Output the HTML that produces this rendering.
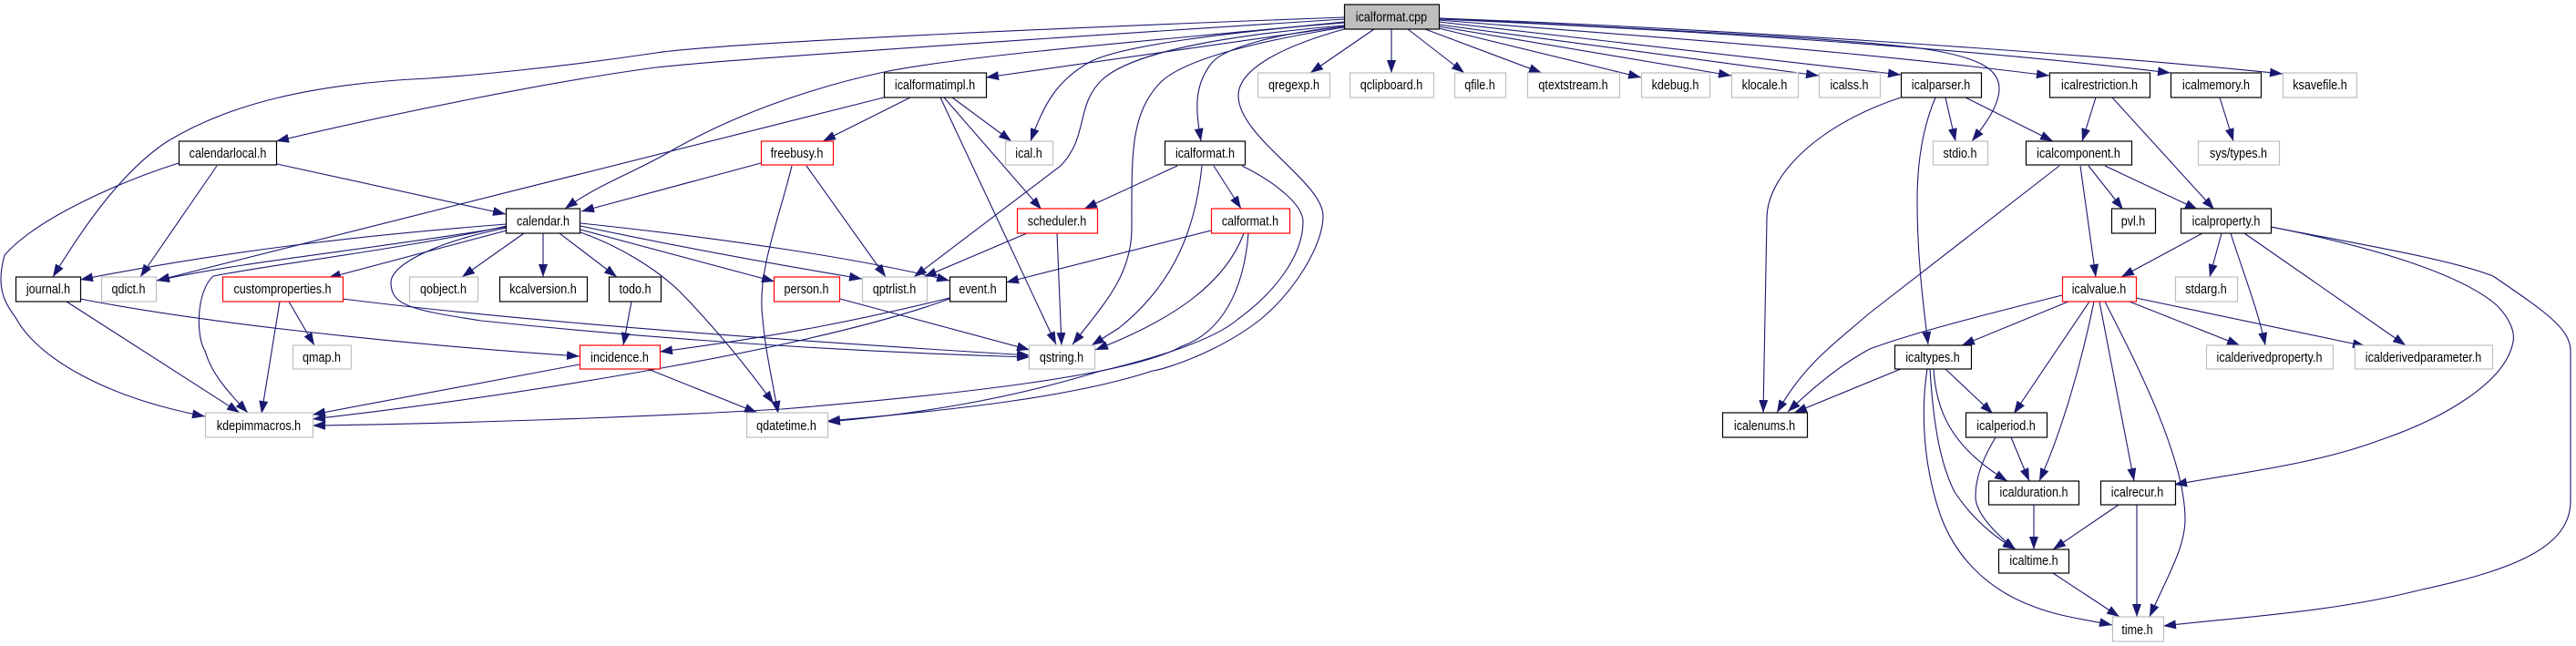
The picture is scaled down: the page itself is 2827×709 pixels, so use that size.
<!DOCTYPE html>
<html><head><meta charset="utf-8"><style>
html,body{margin:0;padding:0;background:#fff;width:2827px;height:709px;overflow:hidden}
svg{display:block}
.e path{fill:none;stroke:#191970;stroke-width:1.1;marker-end:url(#a)}
.k rect{fill:#fff;stroke:#000;stroke-width:1.2}
.r rect{fill:#fff;stroke:#f00;stroke-width:1.2}
.g rect{fill:#fff;stroke:#bfbfbf;stroke-width:1.2}
text{font-family:"Liberation Sans",sans-serif;font-size:15px;text-anchor:middle;fill:#000}
</style></head><body>
<svg width="2827" height="709" viewBox="0 0 2827 709" xmlns="http://www.w3.org/2000/svg">
<defs><marker id="a" markerUnits="userSpaceOnUse" markerWidth="14" markerHeight="10" refX="14" refY="5" orient="auto"><path d="M0,0L14,5L0,10z" fill="#191970"/></marker></defs>
<g class="e">
<path d="M1475,19C1230,28 800,46 720,58C600,76 500,84 470,86C340,92 250,115 184,155C130,190 85,260 58,304"/>
<path d="M1475,21C1100,45 800,65 720,74C600,90 430,125 303,155"/>
<path d="M1475,24C1300,42 1080,58 975,78C880,98 800,130 741,163C700,188 660,200 620,229"/>
<path d="M1475,29L1082,85"/>
<path d="M1475,25C1350,35 1230,50 1196,68C1160,88 1145,115 1131,155"/>
<path d="M1475,28C1330,40 1240,60 1210,87C1180,115 1195,150 1164,182L1003,304"/>
<path d="M1475,30C1380,45 1300,65 1274,90C1240,125 1242,170 1242,250C1242,300 1215,330 1177,378"/>
<path d="M1475,29C1390,38 1340,55 1329,70C1310,95 1312,120 1318,155"/>
<path d="M1475,32C1410,50 1359,75 1359,105C1359,150 1452,200 1452,237C1452,270 1420,320 1384,350C1340,385 1280,405 1265,407C1180,435 1050,450 908,462"/>
<path d="M1508,32L1438,80"/>
<path d="M1527,32L1527,80"/>
<path d="M1545,32L1607,80"/>
<path d="M1564,32L1692,80"/>
<path d="M1579,31L1801,85"/>
<path d="M1579,29L1900,83"/>
<path d="M1579,27L1996,83"/>
<path d="M1579,24L2086,82"/>
<path d="M1579,22C1800,40 2000,52 2249,83"/>
<path d="M1579,20C1800,32 2000,40 2107,53C2170,62 2194,75 2194,97C2194,115 2180,135 2164,155"/>
<path d="M1579,21C1850,33 2150,52 2382,80"/>
<path d="M1579,20C1850,30 2250,55 2505,81"/>
<path d="M304,180L555,235"/>
<path d="M238,182L154,304"/>
<path d="M196,179C130,200 40,240 5,280C-6,320 8,335 18,350C40,390 110,435 225,457"/>
<path d="M970,107L172,308"/>
<path d="M999,107L903,155"/>
<path d="M1045,107L1110,155"/>
<path d="M1036,107L1143,230"/>
<path d="M1032,107L1159,378"/>
<path d="M835,179L638,232"/>
<path d="M885,182L972,304"/>
<path d="M869,182C855,240 830,300 837,350C840,385 848,420 854,454"/>
<path d="M1292,182L1190,229"/>
<path d="M1332,182L1362,229"/>
<path d="M1319,182C1312,250 1290,310 1228,360L1198,379"/>
<path d="M1363,182C1400,200 1430,225 1430,243C1430,280 1400,320 1359,350C1330,375 1260,395 1205,408C1100,440 1000,455 908,463"/>
<path d="M1127,256L1014,304"/>
<path d="M1160,256L1165,379"/>
<path d="M1329,253L1104,310"/>
<path d="M1365,256C1345,310 1290,350 1202,384"/>
<path d="M1370,256C1365,320 1340,365 1297,380C1240,412 1050,433 858,449C700,458 500,465 343,467"/>
<path d="M556,246C400,258 250,275 88,307"/>
<path d="M556,249C400,275 280,285 172,308"/>
<path d="M556,253L360,305"/>
<path d="M556,248C450,272 300,290 234,303C215,320 215,370 225,385C232,410 250,430 272,453"/>
<path d="M556,250C480,265 429,290 429,310C429,335 450,340 528,352C700,370 900,385 1130,392"/>
<path d="M575,256L507,304"/>
<path d="M596,256L596,304"/>
<path d="M614,256L677,304"/>
<path d="M637,252L850,309"/>
<path d="M637,248C750,272 850,290 946,306"/>
<path d="M637,245C800,262 950,285 1042,308"/>
<path d="M637,255C680,270 720,295 746,320C790,365 825,410 849,443"/>
<path d="M73,331L263,453"/>
<path d="M88,328C200,350 400,375 636,391"/>
<path d="M307,331L287,454"/>
<path d="M317,331L345,379"/>
<path d="M376,328C550,350 800,370 1130,390"/>
<path d="M693,331L684,379"/>
<path d="M636,400L343,455"/>
<path d="M711,405L831,453"/>
<path d="M1042,327C950,350 850,370 724,386"/>
<path d="M1042,328C900,380 600,430 343,460"/>
<path d="M922,328L1130,384"/>
<path d="M2086,107C2000,135 1939,190 1939,240L1935,453"/>
<path d="M2124,107C2110,140 2104,180 2104,220C2104,280 2110,330 2116,378"/>
<path d="M2135,107L2146,155"/>
<path d="M2157,107L2253,155"/>
<path d="M2300,107L2285,155"/>
<path d="M2318,107L2430,230"/>
<path d="M2436,107L2451,155"/>
<path d="M2260,182L2050,345C2010,380 1980,400 1950,453"/>
<path d="M2283,182L2300,304"/>
<path d="M2292,182L2330,230"/>
<path d="M2310,182L2412,230"/>
<path d="M2417,256L2328,304"/>
<path d="M2438,256L2425,304"/>
<path d="M2448,256C2462,300 2478,340 2486,379"/>
<path d="M2463,256L2640,379"/>
<path d="M2492,249C2600,270 2700,300 2740,335C2755,350 2760,365 2758,375C2750,420 2680,460 2612,483C2540,510 2450,520 2386,532"/>
<path d="M2492,249C2600,270 2690,285 2736,303C2790,340 2821,360 2821,385L2821,550C2821,600 2760,625 2658,647C2560,672 2460,677 2374,687"/>
<path d="M2263,324C2180,345 2100,365 2052,383C2020,400 1990,425 1962,452"/>
<path d="M2270,331L2153,379"/>
<path d="M2293,331L2210,454"/>
<path d="M2298,331C2284,400 2262,475 2238,528"/>
<path d="M2304,331L2342,528"/>
<path d="M2310,331C2340,390 2398,500 2398,570C2398,600 2380,630 2359,677"/>
<path d="M2337,331L2458,379"/>
<path d="M2344,327L2596,380"/>
<path d="M2086,405L1969,453"/>
<path d="M2135,405L2187,454"/>
<path d="M2122,405C2125,450 2140,490 2203,528"/>
<path d="M2118,405C2122,470 2130,510 2145,540C2165,570 2190,590 2212,603"/>
<path d="M2115,405C2108,450 2110,510 2130,567C2150,620 2190,650 2230,665C2260,677 2290,680 2318,686"/>
<path d="M2207,480L2227,528"/>
<path d="M2190,480C2175,505 2168,525 2168,545C2168,565 2195,590 2212,603"/>
<path d="M2232,554L2232,603"/>
<path d="M2325,554L2253,603"/>
<path d="M2345,554L2345,677"/>
<path d="M2253,629L2326,677"/>
</g>
<g class="k">
<rect x="1475.5" y="5" width="104" height="27" style="fill:#bfbfbf"/><text transform="matrix(.84 0 0 1 1527 23.5)">icalformat.cpp</text>
<rect x="970.5" y="80" width="112" height="27"/><text transform="matrix(.84 0 0 1 1026 98)">icalformatimpl.h</text>
<rect x="2086.5" y="80" width="88" height="27"/><text transform="matrix(.84 0 0 1 2130 98)">icalparser.h</text>
<rect x="2249.5" y="80" width="110" height="27"/><text transform="matrix(.84 0 0 1 2304 98)">icalrestriction.h</text>
<rect x="2382.5" y="80" width="99" height="27"/><text transform="matrix(.84 0 0 1 2432 98)">icalmemory.h</text>
<rect x="196.5" y="155" width="107" height="26"/><text transform="matrix(.84 0 0 1 250 173)">calendarlocal.h</text>
<rect x="1278.5" y="155" width="88" height="26"/><text transform="matrix(.84 0 0 1 1322.5 173)">icalformat.h</text>
<rect x="2223.5" y="155" width="116" height="26"/><text transform="matrix(.84 0 0 1 2281 173)">icalcomponent.h</text>
<rect x="555.5" y="229" width="81" height="27"/><text transform="matrix(.84 0 0 1 596 247.5)">calendar.h</text>
<rect x="2317.5" y="229" width="48" height="27"/><text transform="matrix(.84 0 0 1 2341 247.5)">pvl.h</text>
<rect x="2393.5" y="229" width="99" height="27"/><text transform="matrix(.84 0 0 1 2443 247.5)">icalproperty.h</text>
<rect x="17.5" y="304" width="71" height="27"/><text transform="matrix(.84 0 0 1 53 322)">journal.h</text>
<rect x="548.5" y="304" width="96" height="27"/><text transform="matrix(.84 0 0 1 596 322)">kcalversion.h</text>
<rect x="668.5" y="304" width="57" height="27"/><text transform="matrix(.84 0 0 1 697 322)">todo.h</text>
<rect x="1042.5" y="304" width="62" height="27"/><text transform="matrix(.84 0 0 1 1073 322)">event.h</text>
<rect x="2079.5" y="379" width="84" height="26"/><text transform="matrix(.84 0 0 1 2121 397)">icaltypes.h</text>
<rect x="1890.5" y="453" width="93" height="27"/><text transform="matrix(.84 0 0 1 1936.5 472)">icalenums.h</text>
<rect x="2157.5" y="453" width="89" height="27"/><text transform="matrix(.84 0 0 1 2201.5 472)">icalperiod.h</text>
<rect x="2182.5" y="528" width="99" height="26"/><text transform="matrix(.84 0 0 1 2232 545)">icalduration.h</text>
<rect x="2305.5" y="528" width="82" height="26"/><text transform="matrix(.84 0 0 1 2345.5 545)">icalrecur.h</text>
<rect x="2193.5" y="603" width="77" height="26"/><text transform="matrix(.84 0 0 1 2232 620)">icaltime.h</text>
</g>
<g class="r">
<rect x="835.5" y="155" width="79" height="26"/><text transform="matrix(.84 0 0 1 874.5 173)">freebusy.h</text>
<rect x="1116.5" y="229" width="88" height="27"/><text transform="matrix(.84 0 0 1 1160 247.5)">scheduler.h</text>
<rect x="1329.5" y="229" width="86" height="27"/><text transform="matrix(.84 0 0 1 1372 247.5)">calformat.h</text>
<rect x="244.5" y="304" width="132" height="27"/><text transform="matrix(.84 0 0 1 310 322)">customproperties.h</text>
<rect x="849.5" y="304" width="72" height="27"/><text transform="matrix(.84 0 0 1 885 322)">person.h</text>
<rect x="2263.5" y="304" width="81" height="27"/><text transform="matrix(.84 0 0 1 2303.5 322)">icalvalue.h</text>
<rect x="636.5" y="379" width="88" height="26"/><text transform="matrix(.84 0 0 1 680 397)">incidence.h</text>
</g>
<g class="g">
<rect x="1380.5" y="80" width="79" height="27"/><text transform="matrix(.84 0 0 1 1420 98)">qregexp.h</text>
<rect x="1481.5" y="80" width="92" height="27"/><text transform="matrix(.84 0 0 1 1527 98)">qclipboard.h</text>
<rect x="1596.5" y="80" width="56" height="27"/><text transform="matrix(.84 0 0 1 1624 98)">qfile.h</text>
<rect x="1676.5" y="80" width="101" height="27"/><text transform="matrix(.84 0 0 1 1726.5 98)">qtextstream.h</text>
<rect x="1801.5" y="80" width="75" height="27"/><text transform="matrix(.84 0 0 1 1838.5 98)">kdebug.h</text>
<rect x="1900.5" y="80" width="73" height="27"/><text transform="matrix(.84 0 0 1 1936.5 98)">klocale.h</text>
<rect x="1996.5" y="80" width="67" height="27"/><text transform="matrix(.84 0 0 1 2029.5 98)">icalss.h</text>
<rect x="2505.5" y="80" width="81" height="27"/><text transform="matrix(.84 0 0 1 2546 98)">ksavefile.h</text>
<rect x="1103.5" y="155" width="52" height="26"/><text transform="matrix(.84 0 0 1 1129 173)">ical.h</text>
<rect x="2121.5" y="155" width="60" height="26"/><text transform="matrix(.84 0 0 1 2151 173)">stdio.h</text>
<rect x="2412.5" y="155" width="89" height="26"/><text transform="matrix(.84 0 0 1 2456.5 173)">sys/types.h</text>
<rect x="111.5" y="304" width="60" height="27"/><text transform="matrix(.84 0 0 1 141 322)">qdict.h</text>
<rect x="449.5" y="304" width="75" height="27"/><text transform="matrix(.84 0 0 1 486.5 322)">qobject.h</text>
<rect x="946.5" y="304" width="71" height="27"/><text transform="matrix(.84 0 0 1 981.5 322)">qptrlist.h</text>
<rect x="2387.5" y="304" width="68" height="27"/><text transform="matrix(.84 0 0 1 2421 322)">stdarg.h</text>
<rect x="321.5" y="379" width="64" height="26"/><text transform="matrix(.84 0 0 1 353 397)">qmap.h</text>
<rect x="1129.5" y="379" width="72" height="26"/><text transform="matrix(.84 0 0 1 1165 397)">qstring.h</text>
<rect x="2421.5" y="379" width="139" height="26"/><text transform="matrix(.84 0 0 1 2490.5 397)">icalderivedproperty.h</text>
<rect x="2584.5" y="379" width="151" height="26"/><text transform="matrix(.84 0 0 1 2659.5 397)">icalderivedparameter.h</text>
<rect x="225.5" y="453" width="118" height="27"/><text transform="matrix(.84 0 0 1 284 472)">kdepimmacros.h</text>
<rect x="819.5" y="453" width="89" height="27"/><text transform="matrix(.84 0 0 1 863 472)">qdatetime.h</text>
<rect x="2318.5" y="677" width="56" height="27"/><text transform="matrix(.84 0 0 1 2345.5 696)">time.h</text>
</g>
</svg>
</body></html>
